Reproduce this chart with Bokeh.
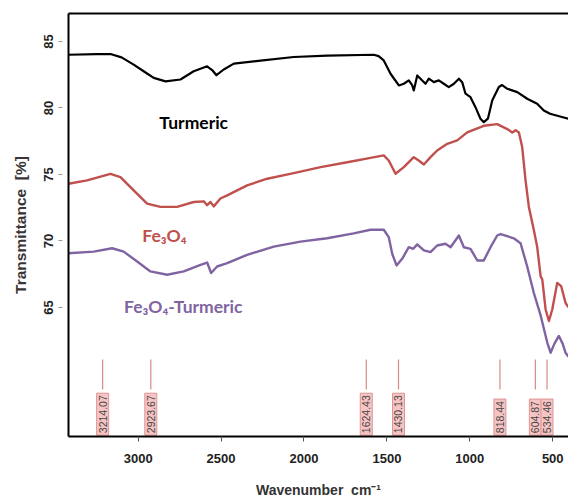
import numpy as np
from bokeh.plotting import figure
from bokeh.models import ColumnDataSource, Range1d, LinearAxis, FixedTicker
from bokeh.embed import file_html
from bokeh.resources import INLINE
from bokeh.core.properties import value

# ---------------- data ----------------
turmeric_wn = [3420, 3250, 3167, 3100, 3027, 2960, 2906, 2835, 2745, 2665,
               2584, 2550, 2528, 2484, 2423, 2262, 2062, 1860, 1579, 1550,
               1519, 1478, 1428, 1398, 1368, 1347, 1338, 1317, 1287, 1267,
               1247, 1217, 1187, 1157, 1127, 1096, 1066, 1046, 1026, 996,
               966, 936, 916, 891, 865, 825, 805, 774, 714, 654,
               594, 554, 516, 456, 405]
turmeric_t = [84.0, 84.05, 84.05, 83.8, 83.26, 82.7, 82.26, 82.0, 82.14, 82.76,
              83.13, 82.8, 82.46, 82.89, 83.33, 83.56, 83.83, 83.93, 84.0, 83.9,
              83.57, 82.57, 81.69, 81.82, 82.07, 81.69, 81.32, 82.44, 82.07, 81.82,
              82.2, 81.94, 82.07, 81.82, 81.57, 81.82, 82.2, 81.94, 81.07, 80.81,
              80.06, 79.19, 78.93, 79.19, 80.56, 81.57, 81.72, 81.44, 81.19, 80.69,
              80.32, 79.81, 79.56, 79.36, 79.19]

fe3o4_wn = [3420, 3308, 3167, 3107, 3027, 2946, 2866, 2765, 2665, 2604,
            2584, 2564, 2544, 2504, 2463, 2343, 2222, 2062, 1900, 1739,
            1599, 1519, 1489, 1448, 1398, 1338, 1308, 1277, 1237, 1197,
            1136, 1076, 1016, 916, 835, 774, 744, 724, 704, 684,
            664, 644, 614, 594, 573, 563, 543, 523, 503, 473,
            449, 423, 405]
fe3o4_t = [74.3, 74.55, 75.05, 74.8, 73.8, 72.81, 72.56, 72.56, 72.93, 72.98,
           72.69, 72.93, 72.6, 73.19, 73.43, 74.18, 74.68, 75.1, 75.55, 75.92,
           76.25, 76.43, 76.05, 75.05, 75.55, 76.3, 76.05, 75.75, 76.3, 76.8,
           77.3, 77.56, 78.16, 78.66, 78.78, 78.41, 78.16, 78.33, 78.16, 77.04,
           74.55, 72.56, 70.82, 69.57, 67.34, 67.1, 64.85, 63.98, 64.85, 66.85,
           66.6, 65.35, 65.0]

composite_wn = [3420, 3268, 3157, 3087, 3006, 2926, 2825, 2725, 2624, 2584,
                2560, 2524, 2463, 2343, 2182, 2021, 1860, 1700, 1599, 1519,
                1489, 1468, 1442, 1408, 1368, 1341, 1317, 1277, 1237, 1197,
                1147, 1116, 1066, 1036, 996, 955, 916, 875, 835, 815,
                735, 694, 654, 614, 573, 533, 513, 489, 463, 441,
                423, 405]
composite_t = [69.08, 69.2, 69.45, 69.2, 68.45, 67.71, 67.46, 67.71, 68.2, 68.38,
               67.59, 68.08, 68.33, 68.96, 69.57, 69.95, 70.2, 70.57, 70.84, 70.84,
               70.29, 69.04, 68.16, 68.66, 69.53, 69.41, 69.74, 69.29, 69.16, 69.66,
               69.79, 69.53, 70.41, 69.53, 69.41, 68.53, 68.53, 69.53, 70.41, 70.52,
               70.2, 69.83, 68.08, 66.09, 64.4, 62.36, 61.6, 62.3, 62.86, 62.3,
               61.6, 61.3]

series_names = ["Turmeric", "Fe\u2083O\u2084", "Fe\u2083O\u2084-Turmeric"]
series_colors = ["#000000", "#c0504d", "#8064a2"]
name_wn = [2665, 2975, 3085]
name_t = [78.87, 70.4, 65.1]
name_align = ["center", "left", "left"]

peak_wn = [3214.07, 2923.67, 1624.43, 1430.13, 818.44, 604.87, 534.46]
peak_labels = ["3214.07", "2923.67", "1624.43", "1430.13", "818.44", "604.87", "534.46"]

x_ticks = [3000, 2500, 2000, 1500, 1000, 500]
y_ticks = [65, 70, 75, 80, 85]

# ---------------- figure ----------------
p = figure(frame_width=500, frame_height=423,
           x_range=Range1d(3420, 405), y_range=Range1d(55.3, 87.1),
           output_backend="svg", toolbar_location=None,
           min_border_left=68, min_border_right=0, min_border_top=13, min_border_bottom=66)
p.background_fill_color = "white"
p.border_fill_color = "white"
p.outline_line_color = None
p.xgrid.visible = False
p.ygrid.visible = False

for wn, t, c, w in [(turmeric_wn, turmeric_t, series_colors[0], 2.2),
                    (fe3o4_wn, fe3o4_t, series_colors[1], 2.4),
                    (composite_wn, composite_t, series_colors[2], 2.4)]:
    p.line(wn, t, line_color=c, line_width=w, line_join="round")

# series names
name_src = ColumnDataSource(dict(x=name_wn, y=name_t, text=series_names, color=series_colors, align=name_align))
p.text(x="x", y="y", text="text", source=name_src, text_color="color", text_align="align",
       text_baseline="middle", text_font=value("Lato"), text_font_style="bold", text_font_size="17.5px")

# peak markers
p.segment(x0=peak_wn, y0=[58.84] * len(peak_wn), x1=peak_wn, y1=[61.09] * len(peak_wn),
          line_color="#d98a8a", line_width=1.2)
p.text(x=peak_wn, y=[55.4] * len(peak_wn), text=peak_labels, angle=np.pi / 2,
       text_align="left", text_baseline="middle", text_font=value("Liberation Sans"),
       text_font_size="10.5px", text_color="#444444",
       background_fill_color="#f7c4c4", border_line_color="#e09494", border_line_width=1, padding=2)

# axes
xa = p.xaxis[0]
xa.ticker = FixedTicker(ticks=x_ticks)
xa.axis_line_color = "black"
xa.axis_line_width = 2
xa.major_tick_in = 0
xa.major_tick_out = 5
xa.major_tick_line_color = "#555555"
xa.minor_tick_line_color = None
xa.major_label_text_font = "Liberation Sans"
xa.major_label_text_font_style = "bold"
xa.major_label_text_font_size = "13px"
xa.major_label_text_color = "#222222"
xa.major_label_standoff = 12
xa.axis_label = "Wavenumber\u00a0 cm\u207b\u00b9"
xa.axis_label_text_font = "Liberation Sans"
xa.axis_label_text_font_style = "bold"
xa.axis_label_text_font_size = "14px"
xa.axis_label_text_color = "#333333"
xa.axis_label_standoff = 16

ya = p.yaxis[0]
ya.ticker = FixedTicker(ticks=y_ticks)
ya.axis_line_color = "black"
ya.axis_line_width = 2
ya.major_tick_in = -6
ya.major_tick_out = 10
ya.major_tick_line_color = "#999999"
ya.minor_tick_line_color = None
ya.major_label_orientation = "vertical"
ya.major_label_text_font = "Liberation Sans"
ya.major_label_text_font_style = "bold"
ya.major_label_text_font_size = "13px"
ya.major_label_text_color = "#222222"
ya.major_label_standoff = 5
ya.axis_label = "Transmittance\u00a0 [%]"
ya.axis_label_text_font = "Liberation Sans"
ya.axis_label_text_font_style = "bold"
ya.axis_label_text_font_size = "15.5px"
ya.axis_label_text_color = "#3a3535"
ya.axis_label_standoff = 13

top = LinearAxis(ticker=FixedTicker(ticks=[]), axis_line_color="black", axis_line_width=2,
                 major_tick_out=0, major_tick_in=0, minor_tick_out=0, minor_tick_in=0,
                 major_label_standoff=0, major_label_text_font_size="0px")
p.add_layout(top, "above")

open("out.html", "w").write(file_html(p, INLINE))
